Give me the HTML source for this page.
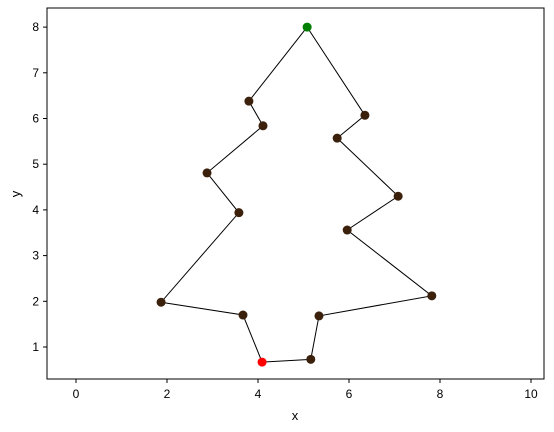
<!DOCTYPE html>
<html><head><meta charset="utf-8"><style>body{margin:0;background:#fff}svg{display:block;font-family:"Liberation Sans","DejaVu Sans",sans-serif}</style></head>
<body>
<svg id="chart" width="554" height="432">
<rect x="47" y="8" width="497" height="371" fill="#fff" stroke="#000" stroke-width="1"/>
<g id="ticks"></g>
<polyline id="line" fill="none" stroke="#000" stroke-width="1"/>
<g id="pts"></g>
<text x="295" y="420" font-size="13" text-anchor="middle">x</text>
<text x="20" y="194" font-size="13" text-anchor="middle" transform="rotate(-90 20 194)">y</text>
</svg>
<script>
const xs=[5.08,3.80,4.11,2.88,3.58,1.87,3.67,4.09,5.16,5.34,7.82,5.96,7.08,5.74,6.35];
const ys=[8.0,6.38,5.84,4.81,3.94,1.98,1.70,0.67,0.73,1.68,2.12,3.56,4.30,5.57,6.07];
const xTicks=[0,2,4,6,8,10];
const yTicks=[1,2,3,4,5,6,7,8];
const sx=v=>76+v*45.5, sy=v=>392.7-v*45.7;
const ns="http://www.w3.org/2000/svg";
const T=document.getElementById('ticks');
function mk(t,a,p){const e=document.createElementNS(ns,t);for(const k in a)e.setAttribute(k,a[k]);p.appendChild(e);return e;}
xTicks.forEach(v=>{const x=sx(v);
const l=mk('line',{x1:x,x2:x,y1:379,y2:383,stroke:'#000'},T);


const t=mk('text',{x:x,y:398,'font-size':12,'text-anchor':'middle'},T);t.textContent=v;

});
yTicks.forEach(v=>{const y=sy(v);
const l=mk('line',{x1:43,x2:47,y1:y,y2:y,stroke:'#000'},T);


const t=mk('text',{x:39,y:y+4,'font-size':12,'text-anchor':'end'},T);t.textContent=v;

});
const pts=xs.map((x,i)=>sx(x)+','+sy(ys[i]));pts.push(pts[0]);
document.getElementById('line').setAttribute('points',pts.join(' '));
const P=document.getElementById('pts');
xs.forEach((x,i)=>{const c=mk('circle',{cx:sx(x),cy:sy(ys[i]),r:4.5,fill:i==0?'#008000':(i==7?'#ff0000':'#3b200c')},P);

});
</script>
</body></html>
